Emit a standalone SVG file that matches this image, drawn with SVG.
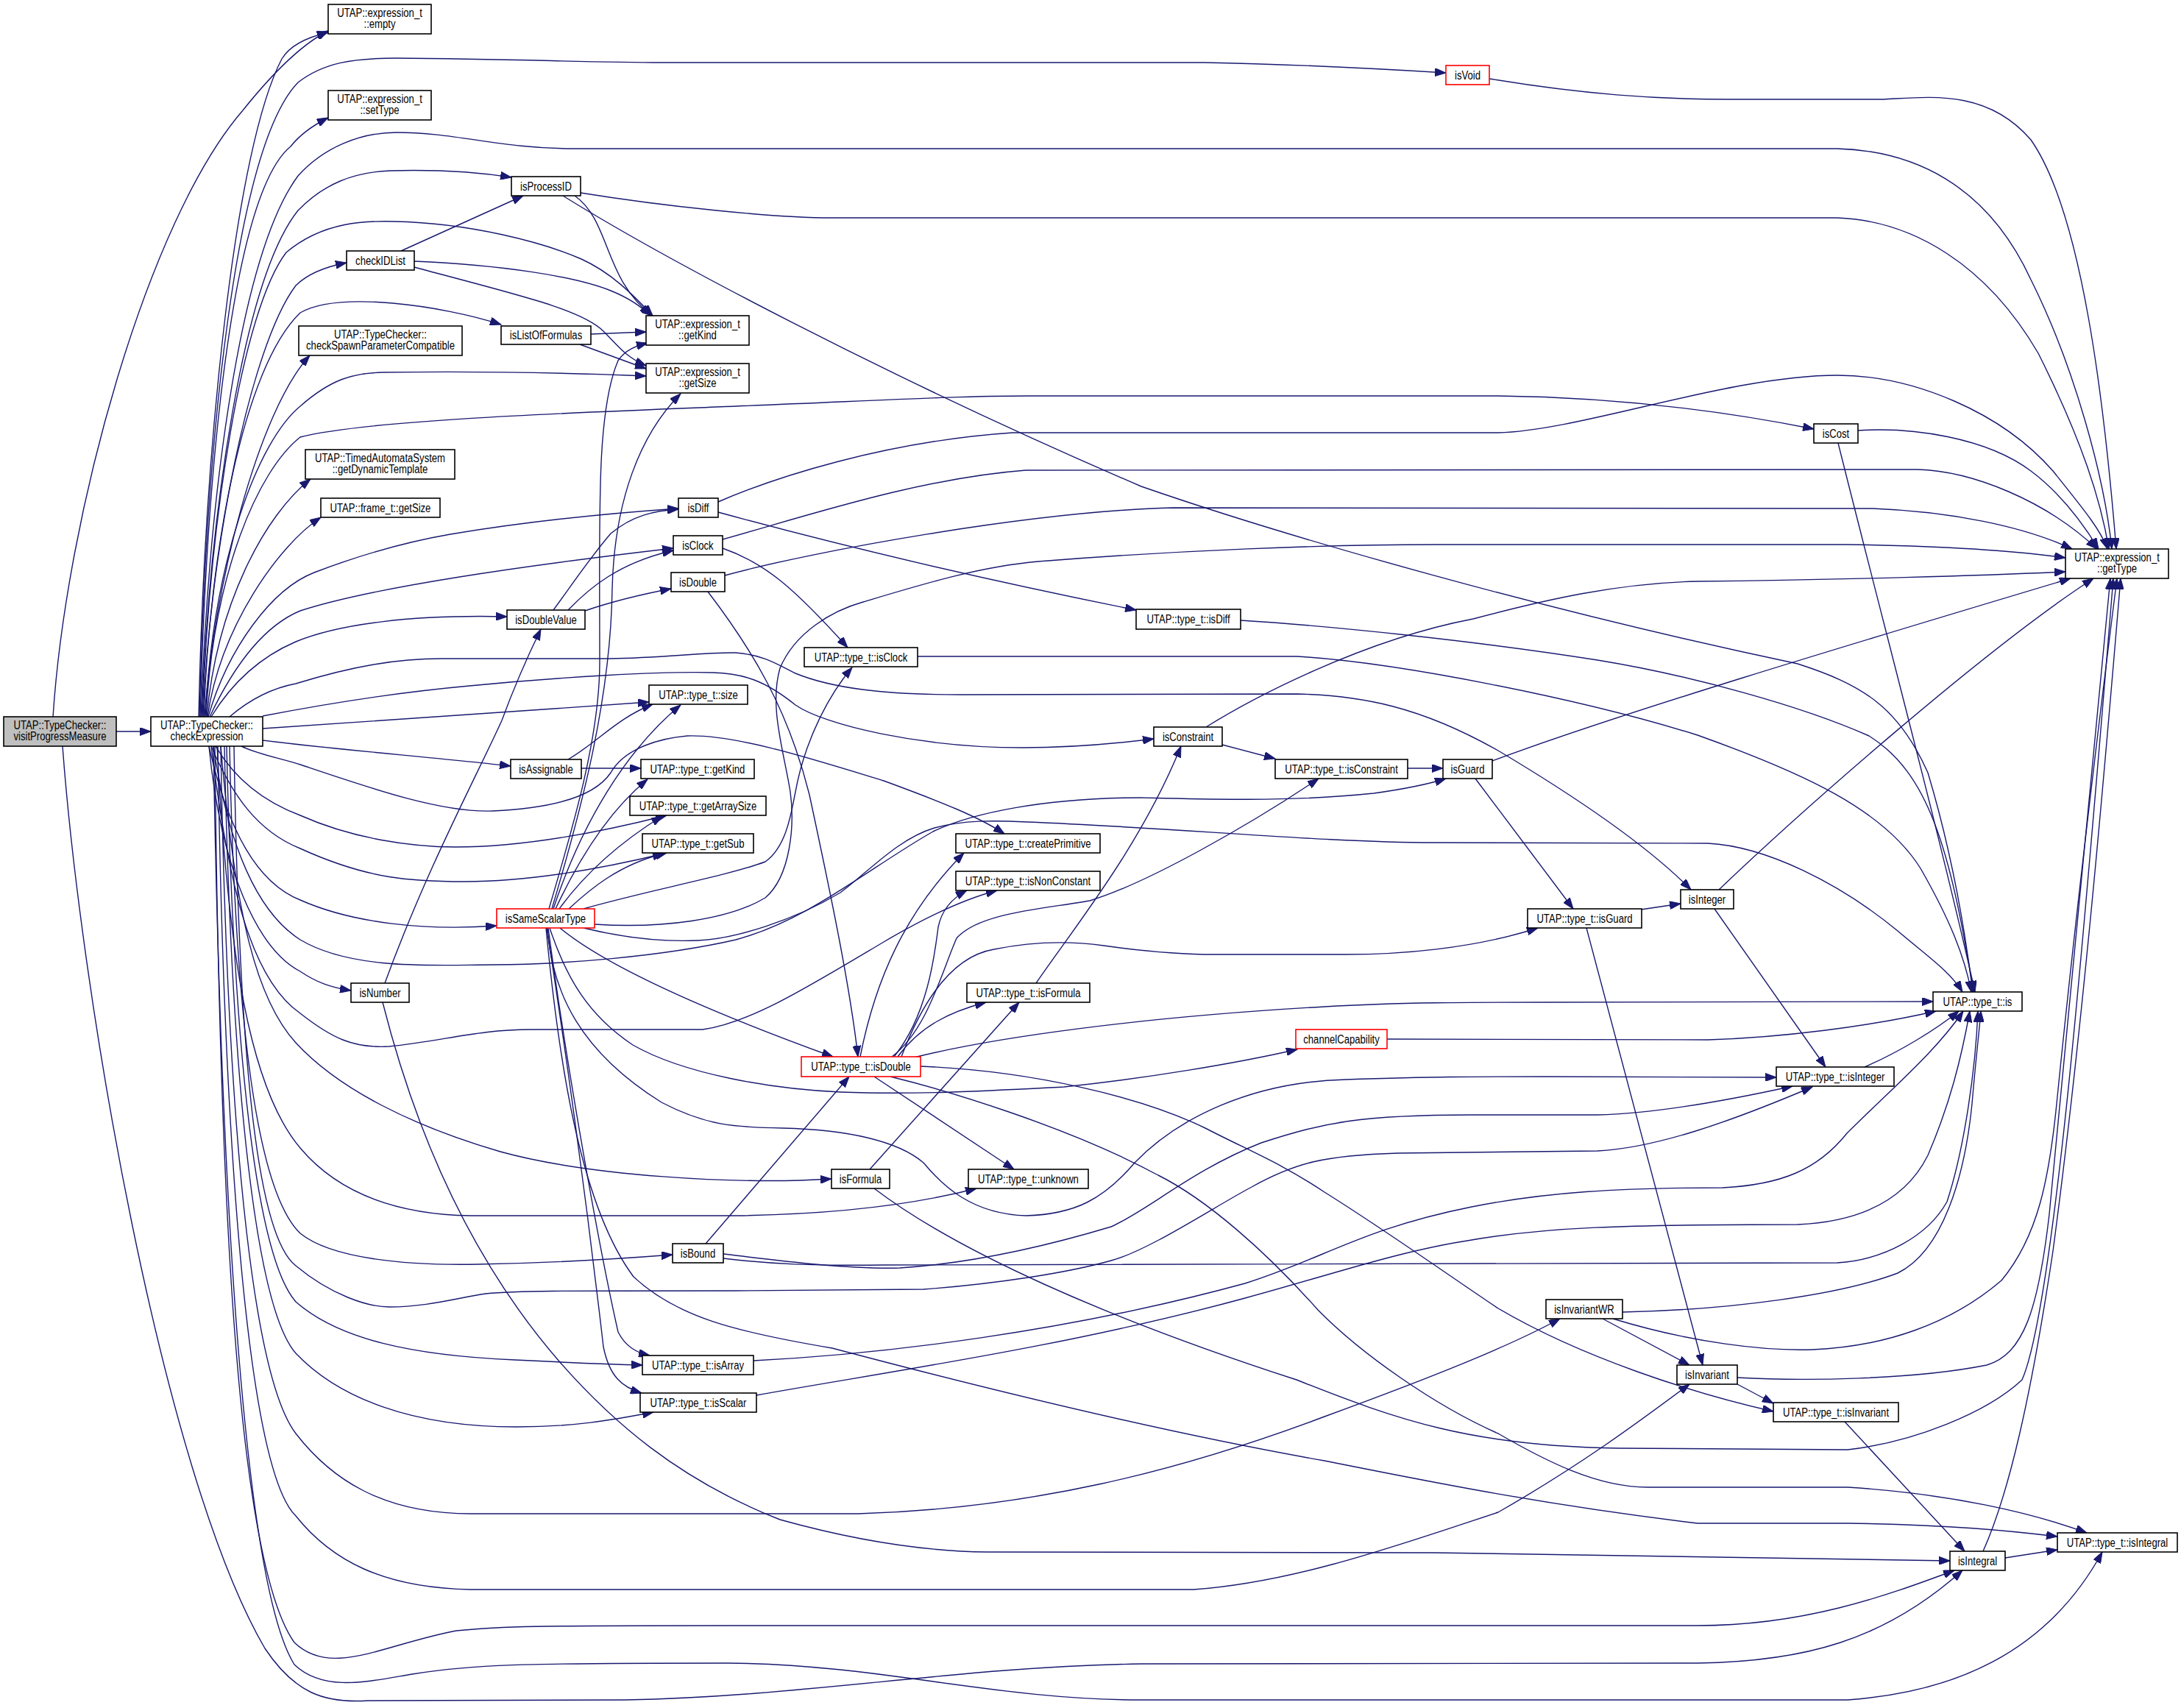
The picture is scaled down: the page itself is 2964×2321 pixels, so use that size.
<svg xmlns="http://www.w3.org/2000/svg" width="2964" height="2321" viewBox="0 0 2964 2321">
<style>
.node rect{fill:#fff;stroke:#000;stroke-width:1.6}
.node.red rect{stroke:#ff0000}
.node.root rect{fill:#bfbfbf}
text{font-family:"Liberation Sans",Arial,Helvetica,sans-serif;font-size:16px;text-anchor:middle;fill:#000}
.edges path{fill:none;stroke:#191970;stroke-width:1.4;marker-end:url(#arr)}
</style>
<defs>
<marker id="arr" markerUnits="userSpaceOnUse" markerWidth="16" markerHeight="11" viewBox="0 0 16 11" refX="15" refY="5.5" orient="auto">
<path d="M0,0 L15,5.5 L0,11 z" fill="#191970" stroke="#191970" stroke-width="1"/>
</marker>
</defs>
<rect width="2964" height="2321" fill="#fff"/>
<g class="edges" id="edges">
<path d="M158,994 L205,994"/>
<path d="M72,974 C90,700 200,300 330,150 C370,100 410,60 446,42"/>
<path d="M85,1014 C110,1350 220,2000 360,2240 C400,2300 440,2315 500,2311 L850,2310 C1100,2305 1300,2265 1551,2261 L2307,2260 C2450,2258 2560,2230 2667,2134"/>
<path d="M270,974 C278,600 320,200 383,80 C395,60 420,50 446,44"/>
<path d="M271,974 C280,600 320,200 405,112 C440,85 480,79 539,79 C700,80 800,85 900,85 L1636,85 C1750,87 1850,92 1965,99"/>
<path d="M272,974 C282,600 320,260 395,199 C410,180 430,168 446,160"/>
<path d="M273,974 C285,650 330,340 405,239 C440,200 490,180 539,180 C620,180 680,202 780,202 L2497,202 C2600,205 2700,250 2760,380 C2820,500 2860,650 2870,746"/>
<path d="M274,974 C285,700 330,380 405,286 C440,250 480,234 530,232 C600,230 650,234 695,241"/>
<path d="M275,974 C285,700 330,420 389,343 C440,300 500,300 536,301 C640,303 740,330 790,352 C830,370 860,400 887,429"/>
<path d="M276,974 C285,750 340,470 402,388 C420,370 445,362 471,357"/>
<path d="M277,974 C285,750 330,500 408,425 C460,395 600,415 681,441"/>
<path d="M278,974 C290,800 350,560 421,483"/>
<path d="M279,974 C290,760 350,600 408,552 C450,515 480,507 520,506 C650,504 780,507 878,511"/>
<path d="M280,974 C290,780 350,640 408,594 C500,570 800,560 1000,552 C1200,544 1300,538 1397,538 L2036,538 C2200,540 2350,560 2465,583"/>
<path d="M281,974 C295,820 360,700 422,651"/>
<path d="M282,974 C300,850 380,740 436,703"/>
<path d="M283,974 C310,880 370,800 427,778 C500,750 560,735 612,726 C720,708 820,698 922,691"/>
<path d="M285,974 C320,900 360,850 408,830 C500,800 700,770 915,745"/>
<path d="M287,974 C320,920 360,890 402,872 C460,848 560,835 689,838"/>
<path d="M312,974 C340,950 370,935 402,929 C480,905 540,895 600,895 L829,895 C900,894 960,886 1000,887 C1040,890 1060,905 1081,915 C1130,935 1200,944 1306,944 L1762,943 C1850,945 1930,960 2036,1020 C2120,1070 2230,1140 2298,1209"/>
<path d="M357,973 C450,955 550,940 638,932 C760,920 900,912 969,914 C1010,915 1040,925 1081,958 C1120,985 1250,1016 1390,1016 C1460,1016 1520,1010 1568,1004"/>
<path d="M357,990 C500,980 700,967 882,954"/>
<path d="M357,1006 C450,1018 600,1030 694,1041"/>
<path d="M328,1014 C350,1025 380,1030 408,1039 C500,1070 600,1105 670,1102 C760,1098 810,1080 830,1050 C850,1015 900,1003 934,1000 C1000,998 1100,1030 1201,1061 C1280,1090 1330,1110 1365,1133"/>
<path d="M293,1014 C320,1060 360,1090 408,1108 C480,1140 560,1151 619,1151 C700,1151 800,1135 906,1108"/>
<path d="M287,1014 C315,1080 350,1130 408,1153 C500,1195 560,1198 631,1198 C720,1198 820,1180 906,1159"/>
<path d="M284,1014 C310,1130 350,1200 408,1223 C480,1255 580,1265 675,1258"/>
<path d="M290,1014 C310,1150 350,1240 408,1277 C480,1320 600,1311 670,1311 C760,1311 900,1300 1000,1277 C1100,1250 1180,1180 1268,1130 C1320,1105 1420,1084 1551,1084 C1650,1086 1750,1090 1867,1078 C1910,1072 1940,1066 1965,1058"/>
<path d="M284,1014 C300,1180 350,1290 408,1320 C430,1335 450,1342 477,1346"/>
<path d="M287,1014 C310,1200 340,1330 408,1377 C450,1410 480,1425 529,1422 C600,1415 650,1399 721,1399 L955,1399 C1020,1390 1100,1340 1201,1280 C1260,1245 1310,1222 1355,1210"/>
<path d="M300,1014 C320,1250 350,1360 402,1417 C460,1480 560,1530 680,1565 C800,1598 1000,1610 1130,1602"/>
<path d="M295,1014 C310,1300 340,1480 408,1560 C450,1610 520,1650 640,1652 L1000,1652 C1150,1650 1250,1635 1327,1615"/>
<path d="M312,1014 C320,1400 350,1620 408,1676 C450,1710 550,1720 650,1718 C760,1716 850,1710 914,1705"/>
<path d="M318,1014 C325,1450 350,1680 402,1720 C450,1760 500,1776 529,1776 C580,1776 620,1764 660,1758 C700,1754 750,1754 1000,1754 L1255,1752 C1350,1745 1450,1730 1510,1713 C1560,1700 1650,1640 1701,1613 C1760,1580 1800,1570 1900,1567 L2171,1564 C2250,1560 2350,1525 2463,1477"/>
<path d="M308,1014 C318,1450 350,1710 402,1769 C460,1820 560,1842 700,1848 C780,1852 830,1854 873,1855"/>
<path d="M305,1014 C315,1500 350,1780 402,1839 C460,1900 560,1939 702,1939 C780,1939 830,1930 888,1919"/>
<path d="M300,1014 C310,1600 350,1880 402,1948 C450,2010 520,2057 640,2057 L1166,2057 C1400,2050 1600,2000 1800,1925 C1950,1870 2050,1830 2120,1792"/>
<path d="M296,1014 C305,1600 340,2000 402,2060 C450,2120 520,2158 640,2160 L1622,2160 C1760,2150 1900,2100 2036,2055 C2150,1990 2230,1930 2296,1881"/>
<path d="M292,1014 C298,1600 320,2120 400,2232 C450,2280 520,2235 620,2216 C680,2210 720,2209 1000,2209 L2307,2209 C2450,2209 2560,2170 2656,2134"/>
<path d="M290,1014 C300,1600 330,2150 400,2262 C440,2300 500,2285 560,2275 C640,2262 700,2260 990,2260 C1200,2262 1350,2310 1551,2310 L2511,2310 C2650,2300 2780,2250 2857,2109"/>
<path d="M746,1235 C780,1120 815,1000 815,900 C815,700 810,560 840,490 C850,475 865,470 880,466"/>
<path d="M750,1235 C790,1100 830,950 832,800 C835,680 870,590 925,535"/>
<path d="M752,1235 C790,1120 850,1020 925,958"/>
<path d="M755,1235 C790,1160 830,1100 880,1059"/>
<path d="M760,1235 C800,1180 850,1140 900,1109"/>
<path d="M773,1235 C800,1210 840,1175 902,1160"/>
<path d="M793,1235 C880,1210 990,1190 1040,1171 C1070,1150 1076,1100 1081,1076 C1095,1000 1130,940 1158,907"/>
<path d="M808,1256 C900,1262 990,1250 1040,1220 C1075,1190 1080,1120 1074,1076 C1065,1020 1045,960 1060,908 C1080,860 1130,830 1173,818 C1250,795 1330,770 1411,763 C1600,748 1800,740 1950,740 L2511,740 C2650,742 2750,750 2807,758"/>
<path d="M793,1261 C850,1275 900,1280 948,1278 C1000,1276 1080,1250 1142,1213 C1180,1185 1220,1140 1270,1125 C1310,1114 1350,1115 1397,1117 C1600,1125 1800,1145 1950,1145 L2321,1146 C2400,1150 2500,1200 2579,1265 C2620,1300 2650,1320 2667,1348"/>
<path d="M761,1261 C820,1310 950,1370 1132,1436"/>
<path d="M747,1261 C770,1330 800,1380 860,1420 C930,1460 1050,1480 1142,1484 C1250,1488 1350,1482 1446,1477 C1560,1465 1680,1445 1763,1426"/>
<path d="M744,1261 C750,1350 790,1430 899,1498 C960,1530 1000,1532 1064,1533 C1150,1535 1220,1550 1255,1580 C1280,1610 1320,1650 1395,1652 C1460,1650 1500,1630 1542,1580 C1600,1520 1700,1470 1829,1467 C1950,1463 2000,1463 2100,1463 L2414,1464"/>
<path d="M745,1261 C770,1450 815,1700 840,1810 C850,1830 865,1838 883,1842"/>
<path d="M743,1261 C780,1500 805,1700 820,1830 C828,1870 845,1885 872,1893"/>
<path d="M742,1261 C760,1450 790,1640 861,1735 C920,1790 1000,1810 1131,1832 C1350,1890 1600,1950 1800,1985 C1950,2015 2100,2045 2307,2070 L2511,2070 C2650,2072 2730,2080 2796,2088"/>
<path d="M523,1336 C580,1180 650,1050 682,979 C700,930 718,890 735,855"/>
<path d="M520,1362 C560,1520 630,1700 760,1850 C830,1930 920,2010 1060,2065 C1150,2090 1250,2108 1341,2109 L1950,2110 C2200,2112 2450,2118 2650,2121"/>
<path d="M752,829 C770,805 800,760 830,725 C860,700 890,694 922,692"/>
<path d="M772,829 C800,800 840,765 915,748"/>
<path d="M795,830 C830,818 870,808 912,800"/>
<path d="M976,682 C1050,650 1200,600 1376,588 L2036,588 C2150,585 2350,510 2497,510 C2600,510 2720,560 2790,640 C2830,690 2855,720 2864,746"/>
<path d="M976,696 C1100,730 1300,780 1544,829"/>
<path d="M982,733 C1100,700 1250,650 1394,639 L2606,638 C2680,640 2780,680 2850,746"/>
<path d="M982,745 C1040,765 1080,800 1152,880"/>
<path d="M985,782 C1100,750 1400,695 1594,690 L2545,691 C2650,695 2750,715 2816,746"/>
<path d="M962,804 C1020,880 1070,960 1100,1080 C1130,1220 1155,1340 1166,1436"/>
<path d="M781,266 C830,300 820,380 887,429"/>
<path d="M765,266 C900,350 1200,510 1551,661 C1750,730 2100,830 2443,902 C2530,930 2580,960 2620,1050 C2650,1150 2670,1260 2681,1348"/>
<path d="M789,262 C900,280 1050,296 1131,296 L2497,296 C2600,300 2700,360 2770,480 C2830,600 2855,680 2866,746"/>
<path d="M545,341 L711,266"/>
<path d="M563,355 C680,360 780,375 830,395 C855,405 870,415 884,429"/>
<path d="M563,363 C700,400 790,420 820,450 C840,470 850,485 878,497"/>
<path d="M803,454 L878,451"/>
<path d="M788,468 L878,501"/>
<path d="M772,1032 C810,1010 840,975 887,957"/>
<path d="M790,1044 L871,1044"/>
<path d="M959,1690 L1154,1463"/>
<path d="M983,1704 C1050,1712 1150,1725 1223,1723 C1300,1718 1400,1700 1510,1667 C1560,1645 1620,1590 1714,1553 C1800,1525 1850,1515 2000,1515 L2171,1515 C2250,1513 2350,1495 2436,1476"/>
<path d="M983,1710 C1050,1718 1100,1720 1200,1719 L2497,1716 C2560,1712 2620,1680 2646,1633 C2670,1560 2685,1450 2688,1374"/>
<path d="M1182,1589 L1385,1362"/>
<path d="M1188,1615 C1300,1700 1500,1790 1762,1875 C1900,1930 2000,1965 2200,1968 L2511,1970 C2600,1960 2700,1920 2748,1875 C2790,1780 2830,1300 2872,786"/>
<path d="M1639,988 C1700,950 1850,870 2002,841 C2100,815 2200,792 2307,790 C2500,788 2700,782 2807,777"/>
<path d="M1661,1012 L1733,1031"/>
<path d="M1913,1044 L1961,1044"/>
<path d="M2028,1034 C2200,970 2500,880 2814,786"/>
<path d="M2005,1058 L2138,1235"/>
<path d="M2230,1236 L2284,1228"/>
<path d="M2156,1261 L2314,1855"/>
<path d="M2336,1209 C2450,1100 2700,880 2845,786"/>
<path d="M2330,1235 L2481,1450"/>
<path d="M2534,1450 C2580,1430 2630,1400 2662,1374"/>
<path d="M1686,843 C1800,850 2000,870 2171,897 C2300,918 2450,960 2540,1000 C2620,1050 2650,1150 2682,1348"/>
<path d="M1247,892 L1762,892 C1900,900 2150,950 2307,999 C2450,1050 2560,1100 2610,1180 C2650,1250 2670,1300 2679,1348"/>
<path d="M1242,1437 C1350,1410 1550,1382 1800,1368 C1900,1362 2000,1362 2100,1362 L2627,1361"/>
<path d="M1220,1436 C1250,1395 1290,1375 1340,1362"/>
<path d="M1215,1436 C1260,1380 1270,1300 1275,1260 C1280,1235 1295,1220 1314,1210"/>
<path d="M1169,1436 C1190,1330 1230,1240 1310,1159"/>
<path d="M1212,1436 C1260,1400 1280,1320 1300,1275 C1330,1240 1420,1235 1481,1224 C1560,1200 1700,1120 1792,1058"/>
<path d="M1225,1436 C1250,1370 1290,1300 1351,1290 C1400,1280 1450,1278 1500,1285 C1550,1292 1600,1297 1650,1297 L1829,1297 C1900,1297 2000,1290 2090,1261"/>
<path d="M1188,1463 L1378,1589"/>
<path d="M1251,1449 C1400,1455 1550,1490 1638,1533 C1700,1565 1740,1580 1800,1620 C1880,1670 1950,1720 2036,1778 C2150,1845 2300,1893 2410,1918"/>
<path d="M1210,1463 C1280,1480 1450,1530 1574,1597 C1640,1630 1720,1700 1791,1780 C1850,1840 1950,1910 2036,1948 C2100,1985 2170,2021 2239,2021 L2511,2021 C2650,2030 2760,2055 2836,2083"/>
<path d="M1885,1412 L2321,1413 C2420,1410 2540,1395 2631,1374"/>
<path d="M1408,1336 C1460,1260 1550,1150 1605,1014"/>
<path d="M1024,1849 C1200,1840 1450,1810 1692,1744 C1800,1710 1850,1670 2000,1640 C2100,1620 2200,1614 2341,1614 C2420,1610 2470,1590 2510,1540 C2570,1480 2630,1430 2668,1374"/>
<path d="M1028,1896 C1200,1865 1450,1830 1692,1764 C1800,1735 1900,1700 2000,1685 C2100,1668 2200,1664 2443,1664 C2530,1660 2590,1630 2620,1570 C2650,1500 2665,1440 2677,1374"/>
<path d="M2178,1792 L2296,1855"/>
<path d="M2205,1783 C2350,1780 2500,1760 2579,1730 C2640,1700 2670,1600 2680,1500 C2685,1440 2690,1400 2692,1374"/>
<path d="M2192,1792 C2300,1825 2400,1836 2463,1834 C2560,1830 2650,1800 2720,1740 C2770,1680 2785,1600 2795,1500 C2820,1250 2850,1000 2877,786"/>
<path d="M2361,1872 C2450,1877 2600,1875 2700,1855 C2750,1840 2770,1780 2785,1650 C2810,1400 2840,1100 2868,786"/>
<path d="M2361,1881 L2410,1907"/>
<path d="M2507,1932 L2670,2108"/>
<path d="M2725,2117 L2796,2106"/>
<path d="M2695,2108 C2730,2030 2760,1900 2790,1700 C2830,1400 2860,1050 2882,786"/>
<path d="M2525,585 C2600,580 2700,595 2760,640 C2800,670 2830,710 2852,746"/>
<path d="M2498,602 C2560,850 2640,1150 2684,1348"/>
<path d="M2024,107 C2150,128 2250,135 2350,135 L2560,135 C2620,132 2700,120 2760,190 C2830,290 2860,550 2876,746"/>
</g>
<g id="n_visitProgressMeasure" class="node root"><rect x="5" y="974" width="153" height="40"/><text transform="translate(81.5,990.5) scale(0.82,1)">UTAP::TypeChecker::</text><text transform="translate(81.5,1005.5) scale(0.82,1)">visitProgressMeasure</text></g>
<g id="n_checkExpression" class="node"><rect x="205" y="974" width="152" height="40"/><text transform="translate(281,990.5) scale(0.82,1)">UTAP::TypeChecker::</text><text transform="translate(281,1005.5) scale(0.82,1)">checkExpression</text></g>
<g id="n_empty" class="node"><rect x="446" y="6" width="140" height="40"/><text transform="translate(516,22.5) scale(0.82,1)">UTAP::expression_t</text><text transform="translate(516,37.5) scale(0.82,1)">::empty</text></g>
<g id="n_setType" class="node"><rect x="446" y="123" width="140" height="40"/><text transform="translate(516,139.5) scale(0.82,1)">UTAP::expression_t</text><text transform="translate(516,154.5) scale(0.82,1)">::setType</text></g>
<g id="n_isProcessID" class="node"><rect x="695" y="240" width="94" height="26"/><text transform="translate(742,258.5) scale(0.82,1)">isProcessID</text></g>
<g id="n_checkIDList" class="node"><rect x="471" y="341" width="92" height="26"/><text transform="translate(517,359.5) scale(0.82,1)">checkIDList</text></g>
<g id="n_isListOfFormulas" class="node"><rect x="681" y="443" width="122" height="25"/><text transform="translate(742,461) scale(0.82,1)">isListOfFormulas</text></g>
<g id="n_checkSpawnParameterCompatible" class="node"><rect x="406" y="443" width="222" height="40"/><text transform="translate(517,459.5) scale(0.82,1)">UTAP::TypeChecker::</text><text transform="translate(517,474.5) scale(0.82,1)">checkSpawnParameterCompatible</text></g>
<g id="n_expr_getKind" class="node"><rect x="878" y="429" width="140" height="40"/><text transform="translate(948,445.5) scale(0.82,1)">UTAP::expression_t</text><text transform="translate(948,460.5) scale(0.82,1)">::getKind</text></g>
<g id="n_expr_getSize" class="node"><rect x="878" y="494" width="140" height="40"/><text transform="translate(948,510.5) scale(0.82,1)">UTAP::expression_t</text><text transform="translate(948,525.5) scale(0.82,1)">::getSize</text></g>
<g id="n_getDynamicTemplate" class="node"><rect x="415" y="611" width="203" height="40"/><text transform="translate(516.5,627.5) scale(0.82,1)">UTAP::TimedAutomataSystem</text><text transform="translate(516.5,642.5) scale(0.82,1)">::getDynamicTemplate</text></g>
<g id="n_frame_getSize" class="node"><rect x="436" y="677" width="162" height="26"/><text transform="translate(517,695.5) scale(0.82,1)">UTAP::frame_t::getSize</text></g>
<g id="n_isDiff" class="node"><rect x="922" y="677" width="54" height="26"/><text transform="translate(949,695.5) scale(0.82,1)">isDiff</text></g>
<g id="n_isClock" class="node"><rect x="915" y="728" width="67" height="26"/><text transform="translate(948.5,746.5) scale(0.82,1)">isClock</text></g>
<g id="n_isDouble" class="node"><rect x="912" y="778" width="73" height="26"/><text transform="translate(948.5,796.5) scale(0.82,1)">isDouble</text></g>
<g id="n_isDoubleValue" class="node"><rect x="689" y="829" width="106" height="26"/><text transform="translate(742,847.5) scale(0.82,1)">isDoubleValue</text></g>
<g id="n_type_isDiff" class="node"><rect x="1544" y="828" width="142" height="27"/><text transform="translate(1615,847) scale(0.82,1)">UTAP::type_t::isDiff</text></g>
<g id="n_type_isClock" class="node"><rect x="1093" y="880" width="154" height="26"/><text transform="translate(1170,898.5) scale(0.82,1)">UTAP::type_t::isClock</text></g>
<g id="n_type_size" class="node"><rect x="882" y="931" width="134" height="26"/><text transform="translate(949,949.5) scale(0.82,1)">UTAP::type_t::size</text></g>
<g id="n_isConstraint" class="node"><rect x="1568" y="988" width="93" height="26"/><text transform="translate(1614.5,1006.5) scale(0.82,1)">isConstraint</text></g>
<g id="n_isAssignable" class="node"><rect x="694" y="1032" width="96" height="26"/><text transform="translate(742,1050.5) scale(0.82,1)">isAssignable</text></g>
<g id="n_type_getKind" class="node"><rect x="871" y="1032" width="154" height="26"/><text transform="translate(948,1050.5) scale(0.82,1)">UTAP::type_t::getKind</text></g>
<g id="n_type_isConstraint" class="node"><rect x="1733" y="1032" width="180" height="26"/><text transform="translate(1823,1050.5) scale(0.82,1)">UTAP::type_t::isConstraint</text></g>
<g id="n_isGuard" class="node"><rect x="1961" y="1032" width="67" height="26"/><text transform="translate(1994.5,1050.5) scale(0.82,1)">isGuard</text></g>
<g id="n_type_getArraySize" class="node"><rect x="856" y="1082" width="185" height="26"/><text transform="translate(948.5,1100.5) scale(0.82,1)">UTAP::type_t::getArraySize</text></g>
<g id="n_type_getSub" class="node"><rect x="873" y="1133" width="151" height="26"/><text transform="translate(948.5,1151.5) scale(0.82,1)">UTAP::type_t::getSub</text></g>
<g id="n_type_createPrimitive" class="node"><rect x="1299" y="1133" width="196" height="26"/><text transform="translate(1397,1151.5) scale(0.82,1)">UTAP::type_t::createPrimitive</text></g>
<g id="n_type_isNonConstant" class="node"><rect x="1299" y="1184" width="196" height="26"/><text transform="translate(1397,1202.5) scale(0.82,1)">UTAP::type_t::isNonConstant</text></g>
<g id="n_isInteger" class="node"><rect x="2284" y="1209" width="72" height="26"/><text transform="translate(2320,1227.5) scale(0.82,1)">isInteger</text></g>
<g id="n_type_isGuard" class="node"><rect x="2076" y="1235" width="155" height="26"/><text transform="translate(2153.5,1253.5) scale(0.82,1)">UTAP::type_t::isGuard</text></g>
<g id="n_isSameScalarType" class="node red"><rect x="675" y="1235" width="133" height="26"/><text transform="translate(741.5,1253.5) scale(0.82,1)">isSameScalarType</text></g>
<g id="n_isNumber" class="node"><rect x="477" y="1336" width="79" height="26"/><text transform="translate(516.5,1354.5) scale(0.82,1)">isNumber</text></g>
<g id="n_type_isFormula" class="node"><rect x="1314" y="1336" width="167" height="26"/><text transform="translate(1397.5,1354.5) scale(0.82,1)">UTAP::type_t::isFormula</text></g>
<g id="n_type_is" class="node"><rect x="2627" y="1348" width="121" height="26"/><text transform="translate(2687.5,1366.5) scale(0.82,1)">UTAP::type_t::is</text></g>
<g id="n_channelCapability" class="node red"><rect x="1761" y="1399" width="124" height="26"/><text transform="translate(1823,1417.5) scale(0.82,1)">channelCapability</text></g>
<g id="n_type_isDouble" class="node red"><rect x="1089" y="1436" width="162" height="27"/><text transform="translate(1170,1455) scale(0.82,1)">UTAP::type_t::isDouble</text></g>
<g id="n_type_isInteger" class="node"><rect x="2414" y="1450" width="160" height="26"/><text transform="translate(2494,1468.5) scale(0.82,1)">UTAP::type_t::isInteger</text></g>
<g id="n_isFormula" class="node"><rect x="1130" y="1589" width="79" height="26"/><text transform="translate(1169.5,1607.5) scale(0.82,1)">isFormula</text></g>
<g id="n_type_unknown" class="node"><rect x="1316" y="1589" width="163" height="26"/><text transform="translate(1397.5,1607.5) scale(0.82,1)">UTAP::type_t::unknown</text></g>
<g id="n_isBound" class="node"><rect x="914" y="1690" width="69" height="26"/><text transform="translate(948.5,1708.5) scale(0.82,1)">isBound</text></g>
<g id="n_isInvariantWR" class="node"><rect x="2101" y="1766" width="104" height="26"/><text transform="translate(2153,1784.5) scale(0.82,1)">isInvariantWR</text></g>
<g id="n_type_isArray" class="node"><rect x="873" y="1842" width="151" height="26"/><text transform="translate(948.5,1860.5) scale(0.82,1)">UTAP::type_t::isArray</text></g>
<g id="n_isInvariant" class="node"><rect x="2279" y="1855" width="82" height="26"/><text transform="translate(2320,1873.5) scale(0.82,1)">isInvariant</text></g>
<g id="n_type_isScalar" class="node"><rect x="870" y="1893" width="158" height="26"/><text transform="translate(949,1911.5) scale(0.82,1)">UTAP::type_t::isScalar</text></g>
<g id="n_type_isInvariant" class="node"><rect x="2410" y="1906" width="170" height="26"/><text transform="translate(2495,1924.5) scale(0.82,1)">UTAP::type_t::isInvariant</text></g>
<g id="n_isIntegral" class="node"><rect x="2650" y="2108" width="75" height="26"/><text transform="translate(2687.5,2126.5) scale(0.82,1)">isIntegral</text></g>
<g id="n_type_isIntegral" class="node"><rect x="2796" y="2083" width="163" height="26"/><text transform="translate(2877.5,2101.5) scale(0.82,1)">UTAP::type_t::isIntegral</text></g>
<g id="n_isVoid" class="node red"><rect x="1965" y="89" width="59" height="26"/><text transform="translate(1994.5,107.5) scale(0.82,1)">isVoid</text></g>
<g id="n_isCost" class="node"><rect x="2465" y="576" width="60" height="26"/><text transform="translate(2495,594.5) scale(0.82,1)">isCost</text></g>
<g id="n_expr_getType" class="node"><rect x="2807" y="746" width="140" height="40"/><text transform="translate(2877,762.5) scale(0.82,1)">UTAP::expression_t</text><text transform="translate(2877,777.5) scale(0.82,1)">::getType</text></g>
</svg>
